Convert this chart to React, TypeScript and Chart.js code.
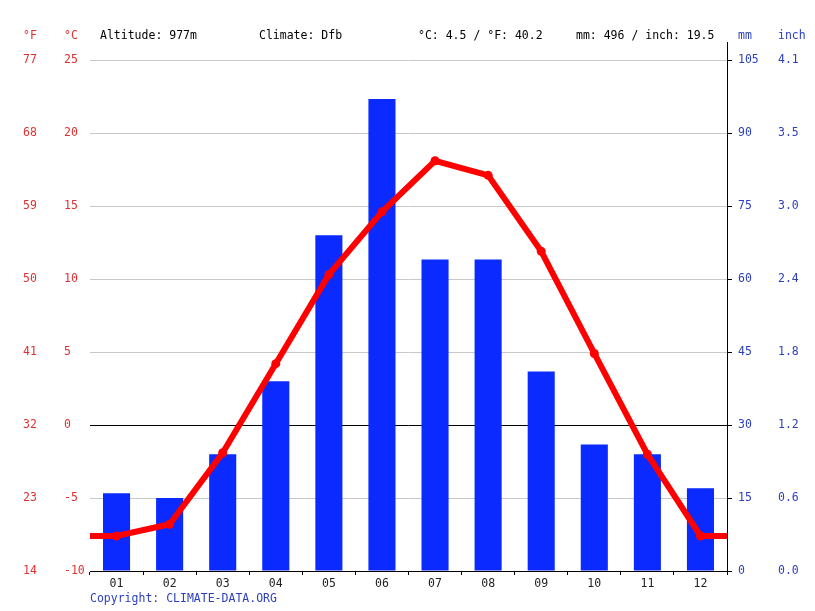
import React, { useEffect, useRef } from 'react';
import { Chart, registerables } from 'chart.js';

Chart.register(...registerables);

const months = ['01', '02', '03', '04', '05', '06', '07', '08', '09', '10', '11', '12'];
const precipMm = [16, 15, 24, 39, 69, 97, 64, 64, 41, 26, 24, 17];
const tempC = [-7.6, -6.8, -1.9, 4.2, 10.3, 14.6, 18.1, 17.1, 11.9, 4.9, -2.0, -7.6];
const tempFLabels = ['14', '23', '32', '41', '50', '59', '68', '77'];
const inchLabels = ['0.0', '0.6', '1.2', '1.8', '2.4', '3.0', '3.5', '4.1'];
const headerLeft = ['°F', '°C'];
const headerInfo = ['Altitude: 977m', 'Climate: Dfb', '°C: 4.5 / °F: 40.2', 'mm: 496 / inch: 19.5'];
const headerRight = ['mm', 'inch'];
const copyright = 'Copyright: CLIMATE-DATA.ORG';

const FONT = 'DejaVu Sans Mono';
const RED = '#e03030';
const BLUE = '#2c3fbf';

export default function App() {
  const ref = useRef<HTMLCanvasElement | null>(null);

  useEffect(() => {
    if (!ref.current) return;
    const edge = (tempC[0] + tempC[11]) / 2;
    const lineData = [
      { x: -0.5, y: edge },
      ...tempC.map((t, i) => ({ x: i, y: t })),
      { x: 11.5, y: edge },
    ];
    const radii = lineData.map((_, i) => (i === 0 || i === lineData.length - 1 ? 0 : 4.5));

    const textPlugin = {
      id: 'texts',
      afterDraw(chart: any) {
        const ctx = chart.ctx;
        const ca = chart.chartArea;
        ctx.save();
        ctx.strokeStyle = '#000';
        ctx.lineWidth = 1;
        ctx.beginPath();
        const xr = Math.round(chart.scales.mm.left) + 0.5;
        ctx.moveTo(xr, 42);
        ctx.lineTo(xr, ca.top);
        ctx.stroke();

        ctx.font = `11.5px "${FONT}"`;
        ctx.textBaseline = 'middle';
        ctx.textAlign = 'left';
        const y = 36;
        ctx.fillStyle = RED;
        ctx.fillText(headerLeft[0], 23, y);
        ctx.fillText(headerLeft[1], 64, y);
        ctx.fillStyle = '#000';
        const xs = [100, 259, 418, 576];
        headerInfo.forEach((t, i) => ctx.fillText(t, xs[i], y));
        ctx.fillStyle = BLUE;
        ctx.fillText(headerRight[0], 738, y);
        ctx.fillText(headerRight[1], 778, y);
        ctx.fillText(copyright, 90, 599);
        ctx.restore();
      },
    };

    const chart = new Chart(ref.current, {
      type: 'bar',
      data: {
        labels: months,
        datasets: [
          {
            type: 'line',
            data: lineData as any,
            xAxisID: 'xl',
            yAxisID: 'y',
            borderColor: '#ff0000',
            backgroundColor: '#ff0000',
            borderWidth: 6,
            pointRadius: radii,
            pointBackgroundColor: '#ff0000',
            pointBorderWidth: 0,
            tension: 0,
            order: 1,
          } as any,
          {
            type: 'bar',
            data: precipMm,
            xAxisID: 'x',
            yAxisID: 'mm',
            backgroundColor: '#0a2aff',
            borderWidth: 0,
            grouped: false,
            barPercentage: 1,
            categoryPercentage: 0.51,
            order: 2,
          } as any,
        ],
      },
      options: {
        responsive: false,
        animation: false,
        devicePixelRatio: 1,
        layout: { padding: { left: 23, right: 0, top: 60, bottom: 0 } },
        plugins: { legend: { display: false }, tooltip: { enabled: false } },
        scales: {
          x: {
            type: 'category',
            offset: true,
            grid: {
              display: true,
              drawOnChartArea: false,
              drawTicks: true,
              tickLength: 4,
              color: '#000',
              offset: true,
            },
            border: { display: true, color: '#000' },
            ticks: { color: '#222', font: { family: FONT, size: 11.5 }, padding: 2, maxRotation: 0 },
            afterFit: (s: any) => {
              s.height = 40;
            },
          },
          xl: {
            type: 'linear',
            display: false,
            offset: false,
            min: -0.5,
            max: 11.5,
            grid: { offset: false },
          },
          y: {
            type: 'linear',
            position: 'left',
            min: -10,
            max: 25,
            weight: 0,
            ticks: {
              stepSize: 5,
              color: RED,
              crossAlign: 'far',
              font: { family: FONT, size: 11.5 },
            },
            grid: {
              drawTicks: false,
              color: (c: any) => (c.tick && c.tick.value === 0 ? '#000' : '#c8c8c8'),
            },
            border: { display: false },
            afterFit: (s: any) => {
              s.width = 26;
            },
          },
          yF: {
            type: 'linear',
            position: 'left',
            min: -10,
            max: 25,
            weight: 1,
            ticks: {
              stepSize: 5,
              color: RED,
              crossAlign: 'far',
              font: { family: FONT, size: 11.5 },
              callback: (_v: any, i: number) => tempFLabels[i],
            },
            grid: { display: false, drawTicks: false },
            border: { display: false },
            afterFit: (s: any) => {
              s.width = 41;
            },
          },
          mm: {
            type: 'linear',
            position: 'right',
            min: 0,
            max: 105,
            weight: 0,
            ticks: {
              stepSize: 15,
              color: BLUE,
              crossAlign: 'near',
              padding: 6,
              font: { family: FONT, size: 11.5 },
            },
            grid: {
              display: true,
              drawOnChartArea: false,
              drawTicks: true,
              tickLength: 5,
              color: '#000',
            },
            border: { display: true, color: '#000' },
            afterFit: (s: any) => {
              s.width = 45;
            },
          },
          inch: {
            type: 'linear',
            position: 'right',
            min: 0,
            max: 105,
            weight: 1,
            ticks: {
              stepSize: 15,
              color: BLUE,
              crossAlign: 'near',
              padding: 6,
              font: { family: FONT, size: 11.5 },
              callback: (_v: any, i: number) => inchLabels[i],
            },
            grid: { display: false, drawTicks: false },
            border: { display: false },
            afterFit: (s: any) => {
              s.width = 43;
            },
          },
        },
      } as any,
      plugins: [textPlugin],
    });
    return () => chart.destroy();
  }, []);

  return (
    <div style={{ position: 'absolute', left: 0, top: 0, width: 815, height: 611, background: '#fff' }}>
      <canvas ref={ref} width={815} height={611} style={{ display: 'block' }} />
    </div>
  );
}
